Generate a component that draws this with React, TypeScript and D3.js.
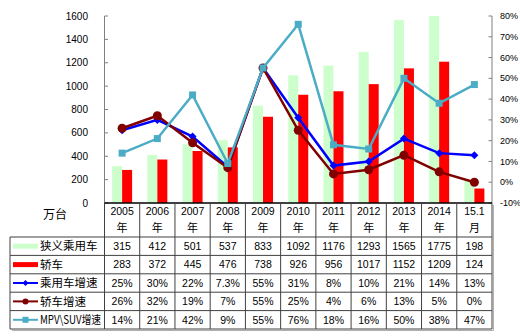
import React from "react";
import * as d3 from "d3";

const categories = ["2005", "2006", "2007", "2008", "2009", "2010", "2011", "2012", "2013", "2014", "15.1"];
const headerLine2 = ["年", "年", "年", "年", "年", "年", "年", "年", "年", "年", "月"];
const passengerCars = [315, 412, 501, 537, 833, 1092, 1176, 1293, 1565, 1775, 198];
const sedans = [283, 372, 445, 476, 738, 926, 956, 1017, 1152, 1209, 124];
const passengerGrowth = [25, 30, 22, 7.3, 55, 31, 8, 10, 21, 14, 13];
const passengerGrowthLabels = ["25%", "30%", "22%", "7.3%", "55%", "31%", "8%", "10%", "21%", "14%", "13%"];
const sedanGrowth = [26, 32, 19, 7, 55, 25, 4, 6, 13, 5, 0];
const mpvSuvGrowth = [14, 21, 42, 9, 55, 76, 18, 16, 50, 38, 47];
const leftTicks = [0, 200, 400, 600, 800, 1000, 1200, 1400, 1600];
const rightTicks = [-10, 0, 10, 20, 30, 40, 50, 60, 70, 80];
const seriesNames = ["狭义乘用车", "轿车", "乘用车增速", "轿车增速", "MPV\\SUV增速"];
const unitLabel = "万台";

const W = 520, H = 336;
const plotL = 104.5, plotR = 492, plotT = 16, plotB = 203;
const tableLeft = 10;
const headerBottom = 237;
const rowH = 18.4;

const C_GREEN = "#ccffcc";
const C_RED = "#ff0000";
const C_BLUE = "#0000ff";
const C_MAROON = "#800000";
const C_TEAL = "#4bacc6";
const NUM_FONT = "'Liberation Sans', Arial, sans-serif";
const CJK_FONT = "'Noto Sans CJK SC', sans-serif";

export default function App() {
  const x = d3.scaleBand<string>().domain(categories).range([plotL, plotR]).padding(0);
  const yL = d3.scaleLinear().domain([0, 1600]).range([plotB, plotT]);
  const yR = d3.scaleLinear().domain([-10, 80]).range([plotB, plotT]);
  const bw = 10;
  const cx = (c: string) => (x(c) as number) + x.bandwidth() / 2;

  const line = d3
    .line<number>()
    .x((_, i) => cx(categories[i]))
    .y((d) => yR(d));

  const clip = (v: number) => Math.min(v, 1600);

  const rowsText: string[][] = [
    passengerCars.map(String),
    sedans.map(String),
    passengerGrowthLabels,
    sedanGrowth.map((d) => d + "%"),
    mpvSuvGrowth.map((d) => d + "%"),
  ];

  const rowY = (i: number) => headerBottom + i * rowH;
  const tableBottom = rowY(5);

  const diamond = (px: number, py: number, s: number) =>
    `M${px},${py - s}L${px + s},${py}L${px},${py + s}L${px - s},${py}Z`;

  const legendKey = (i: number, yMid: number) => {
    const x0 = 13, x1 = 38, xm = (x0 + x1) / 2;
    if (i === 0) return <line x1={x0} x2={x1} y1={yMid} y2={yMid} stroke={C_GREEN} strokeWidth={5} />;
    if (i === 1) return <line x1={x0} x2={x1} y1={yMid} y2={yMid} stroke={C_RED} strokeWidth={5} />;
    if (i === 2)
      return (
        <g>
          <line x1={x0} x2={x1} y1={yMid} y2={yMid} stroke={C_BLUE} strokeWidth={2} />
          <path d={diamond(xm, yMid, 3)} fill={C_BLUE} />
        </g>
      );
    if (i === 3)
      return (
        <g>
          <line x1={x0} x2={x1} y1={yMid} y2={yMid} stroke={C_MAROON} strokeWidth={2} />
          <circle cx={xm} cy={yMid} r={3} fill={C_MAROON} />
        </g>
      );
    return (
      <g>
        <line x1={x0} x2={x1} y1={yMid} y2={yMid} stroke={C_TEAL} strokeWidth={2} />
        <rect x={xm - 3} y={yMid - 3} width={6} height={6} fill={C_TEAL} />
      </g>
    );
  };

  return (
    <svg width={W} height={H} style={{ position: "absolute", left: 0, top: 0, background: "#fff" }}>
      <defs>
        <clipPath id="plotclip">
          <rect x={plotL} y={plotT} width={plotR - plotL} height={plotB - plotT} />
        </clipPath>
      </defs>
      <rect x={0} y={0} width={W} height={H} fill="#fff" />

      {/* bars */}
      <g clipPath="url(#plotclip)">
        {categories.map((c, i) => (
          <g key={c}>
            <rect x={cx(c) - bw} y={yL(clip(passengerCars[i]))} width={bw} height={plotB - yL(clip(passengerCars[i]))} fill={C_GREEN} />
            <rect x={cx(c)} y={yL(sedans[i])} width={bw} height={plotB - yL(sedans[i])} fill={C_RED} />
          </g>
        ))}
      </g>

      {/* axes */}
      <line x1={plotL} x2={plotL} y1={plotT} y2={plotB} stroke="#808080" strokeWidth={1} />
      <line x1={plotR} x2={plotR} y1={plotT} y2={plotB} stroke="#808080" strokeWidth={1} />
      {leftTicks.map((t) => (
        <g key={"l" + t}>
          <line x1={plotL} x2={plotL + 3.5} y1={yL(t)} y2={yL(t)} stroke="#808080" />
          <text x={88} y={yL(t)} dy="0.35em" textAnchor="end" fontFamily={NUM_FONT} fontSize={10} fill="#000">
            {t}
          </text>
        </g>
      ))}
      {rightTicks.map((t) => (
        <g key={"r" + t}>
          <line x1={plotR - 3.5} x2={plotR} y1={yR(t)} y2={yR(t)} stroke="#808080" />
          <text x={500} y={yR(t)} dy="0.35em" textAnchor="start" fontFamily={NUM_FONT} fontSize={9} fill="#000">
            {t + "%"}
          </text>
        </g>
      ))}

      {/* lines */}
      <path d={line(passengerGrowth) as string} fill="none" stroke={C_BLUE} strokeWidth={2.5} />
      {passengerGrowth.map((d, i) => (
        <path key={"bd" + i} d={diamond(cx(categories[i]), yR(d), 4)} fill={C_BLUE} />
      ))}
      <path d={line(sedanGrowth) as string} fill="none" stroke={C_MAROON} strokeWidth={2.5} />
      {sedanGrowth.map((d, i) => (
        <circle key={"mc" + i} cx={cx(categories[i])} cy={yR(d)} r={4.5} fill={C_MAROON} />
      ))}
      <path d={line(mpvSuvGrowth) as string} fill="none" stroke={C_TEAL} strokeWidth={2.5} />
      {mpvSuvGrowth.map((d, i) => (
        <rect key={"ts" + i} x={cx(categories[i]) - 3.5} y={yR(d) - 3.5} width={7} height={7} fill={C_TEAL} />
      ))}

      {/* table */}
      <g stroke="#404040" strokeWidth={1} fill="none">
        <line x1={plotL} x2={plotR} y1={plotB} y2={plotB} stroke="#000" strokeWidth={1.5} />
        {[0, 1, 2, 3, 4, 5].map((r) => (
          <line key={"h" + r} x1={tableLeft} x2={plotR} y1={rowY(r)} y2={rowY(r)} />
        ))}
        <line x1={tableLeft} x2={tableLeft} y1={headerBottom} y2={tableBottom} />
        {categories.map((c) => (
          <line key={"v" + c} x1={x(c) as number} x2={x(c) as number} y1={plotB} y2={tableBottom} />
        ))}
        <line x1={plotR} x2={plotR} y1={plotB} y2={tableBottom} />
      </g>
      <line x1={plotR + 1.5} x2={plotR + 1.5} y1={plotB + 2} y2={tableBottom + 1.5} stroke="#b0b0b0" />
      <line x1={tableLeft + 2} x2={plotR + 1.5} y1={tableBottom + 1.5} y2={tableBottom + 1.5} stroke="#b0b0b0" />

      <text x={55} y={215} dy="0.35em" textAnchor="middle" fontFamily={CJK_FONT} fontSize={12} fill="#000">
        {unitLabel}
      </text>
      {categories.map((c, i) => (
        <g key={"hd" + c}>
          <text x={cx(c)} y={211} dy="0.35em" textAnchor="middle" fontFamily={NUM_FONT} fontSize={10.5} fill="#000">
            {c}
          </text>
          <text x={cx(c)} y={228} dy="0.35em" textAnchor="middle" fontFamily={CJK_FONT} fontSize={11} fill="#000">
            {headerLine2[i]}
          </text>
        </g>
      ))}
      {rowsText.map((row, r) => (
        <g key={"row" + r}>
          {legendKey(r, rowY(r) + rowH / 2)}
          <text
            x={40}
            y={rowY(r) + rowH / 2}
            dy="0.36em"
            fontFamily={CJK_FONT}
            fontSize={11.5}
            fill="#000"
            {...(r === 4 ? { textLength: 61, lengthAdjust: "spacingAndGlyphs" } : {})}
          >
            {seriesNames[r]}
          </text>
          {row.map((v, i) => (
            <text key={i} x={cx(categories[i])} y={rowY(r) + rowH / 2} dy="0.36em" textAnchor="middle" fontFamily={NUM_FONT} fontSize={10.5} fill="#000">
              {v}
            </text>
          ))}
        </g>
      ))}
    </svg>
  );
}
